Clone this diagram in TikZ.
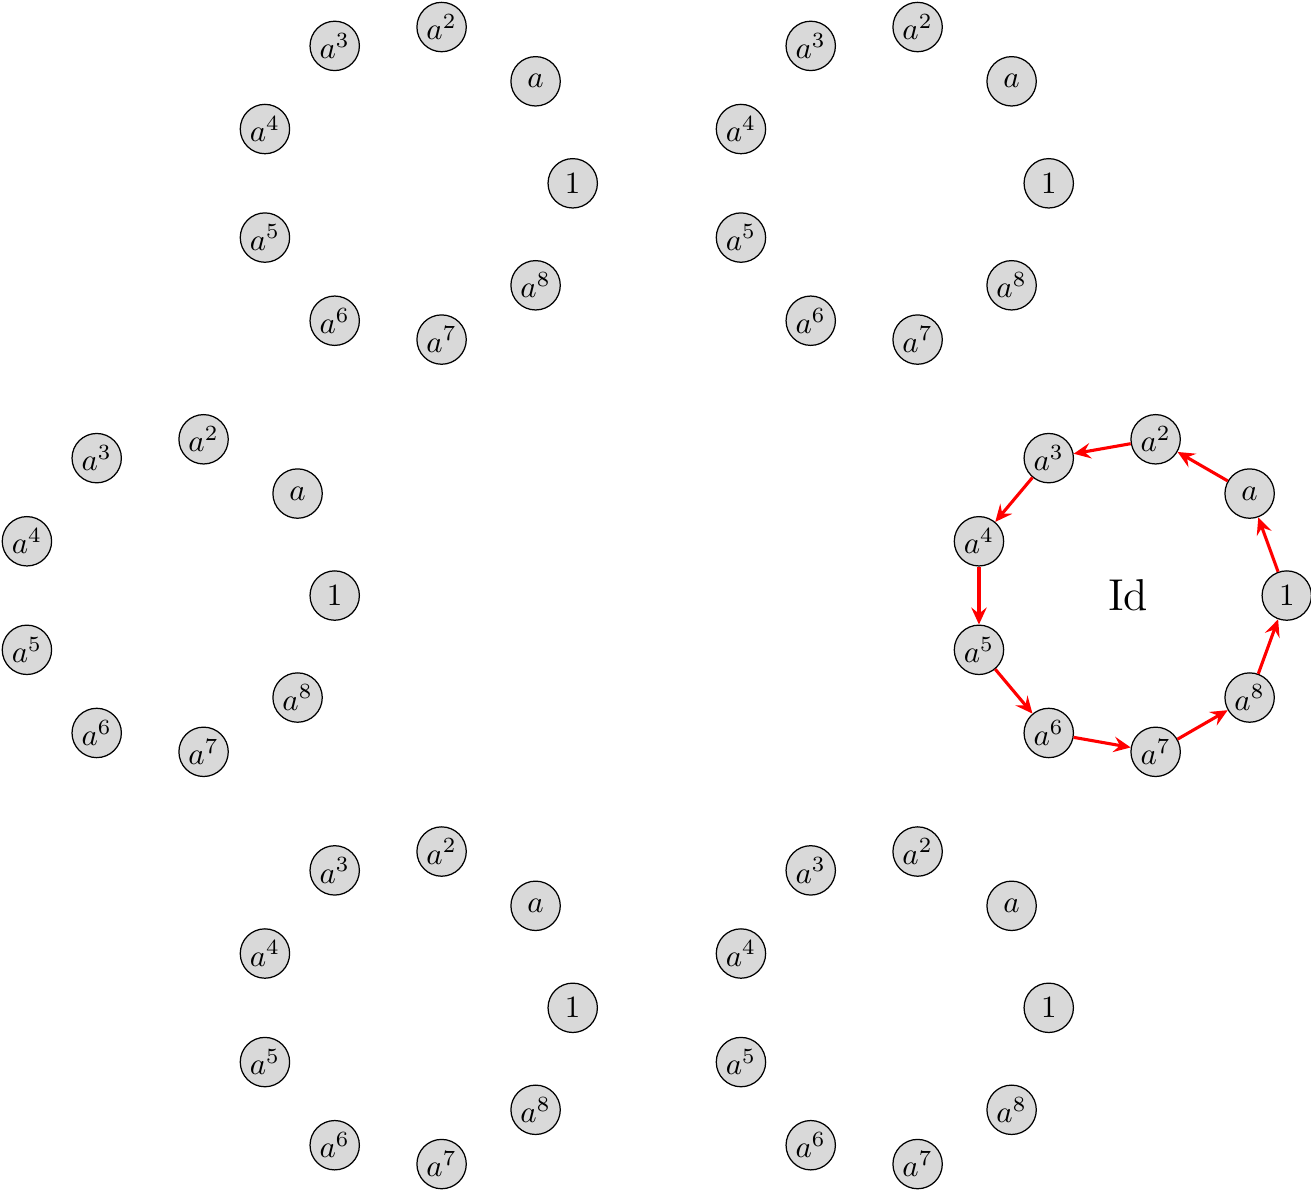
\documentclass[tikz,border=0pt]{standalone}
\usetikzlibrary{arrows.meta}
\begin{document}
\begin{tikzpicture}[
  elem/.style={circle, draw, line width=0.4pt, fill=black!15, minimum size=0.56cm, inner sep=0pt},
  cyc/.style={-{Stealth[length=5.5pt, width=5pt, inset=2pt]}, red, line width=1pt},
]
\useasboundingbox (-7.397,-6.755) rectangle (7.475,6.756);
% six copies of the cyclic group of order 9, placed on a hexagon
\foreach \ring/\ang in {R/0, TR/60, TL/120, L/180, BL/240, BR/300} {
  \coordinate (\ring-c) at (\ang:5.4);
  \begin{scope}[shift={(\ang:5.4)}]
    \foreach \k/\lab in {0/1, 1/a, 2/a^2, 3/a^3, 4/a^4, 5/a^5, 6/a^6, 7/a^7, 8/a^8} {
      \node[elem] (\ring-\k) at (\k*40:1.8) {$\lab$};
    }
  \end{scope}
}
% the identity orbit: 1 -> a -> a^2 -> ... -> a^8 -> 1
\foreach \k [evaluate=\k as \n using {int(mod(\k+1,9))}] in {0,...,8} {
  \draw[cyc] (R-\k) -- (R-\n);
}
\node[font=\Large] (R-id) at (R-c) {Id};
\end{tikzpicture}
\end{document}
